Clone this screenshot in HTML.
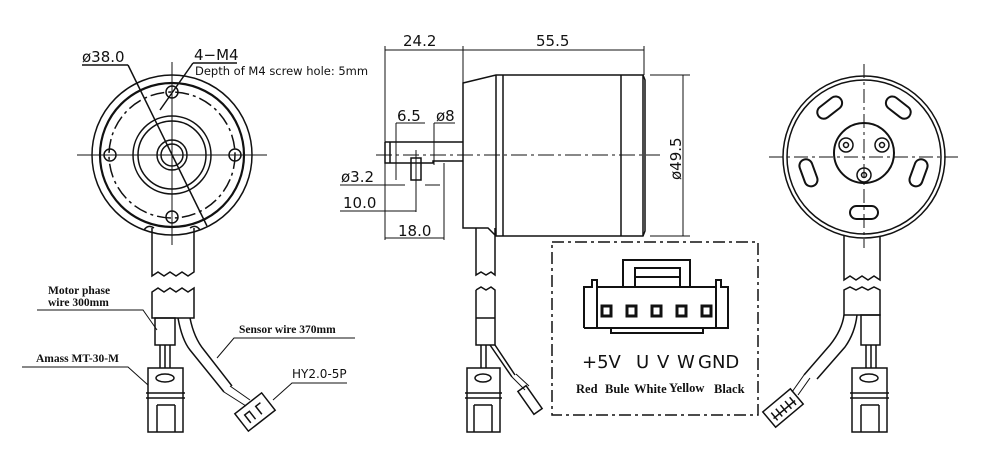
<!DOCTYPE html>
<html><head><meta charset="utf-8"><style>
html,body{margin:0;padding:0;background:#fff;}
svg{display:block}
text{font-family:"DejaVu Sans","Liberation Sans",sans-serif;fill:#111}
.s{font-family:"Liberation Serif",serif;font-weight:bold}
.c{font-family:"Liberation Serif",serif;font-weight:bold}
</style></head><body>
<svg width="1000" height="466" viewBox="0 0 1000 466" xmlns="http://www.w3.org/2000/svg" fill="none" stroke="#111" stroke-width="1.5">
<!-- LEFT VIEW -->
<g>
<circle cx="172" cy="155" r="80"/>
<circle cx="172" cy="155" r="72" stroke-width="2.2"/>
<circle cx="172" cy="155" r="63" stroke-dasharray="14 4 3 4"/>
<circle cx="172" cy="155" r="39"/>
<circle cx="172" cy="155" r="34"/>
<circle cx="172" cy="155" r="15"/>
<circle cx="172" cy="155" r="11"/>
<circle cx="172" cy="92" r="6"/><circle cx="110" cy="155" r="6"/><circle cx="235" cy="155" r="6"/><circle cx="172" cy="217" r="6"/>
<line x1="77" y1="155" x2="267" y2="155" stroke-width="1"/>
<line x1="172" y1="62" x2="172" y2="245" stroke-width="1"/>
<line x1="128" y1="65" x2="207" y2="226"/>
<line x1="82" y1="65" x2="128" y2="65"/>
<line x1="193" y1="63" x2="237" y2="63"/>
<line x1="193" y1="63" x2="160" y2="110"/>
<path d="M152 228 V276 l6 -4 6 4 6 -4 6 4 6 -4 6 4 6 -4 V228"/>
<path d="M152 318 V292 l6 -4 6 4 6 -4 6 4 6 -4 6 4 6 -4 V318 Z"/>
<path d="M144 230 q4 -6 10 -2 M200 230 q-4 -6 -10 -2"/>
<rect x="155" y="318" width="20" height="27"/>
<line x1="160" y1="345" x2="160" y2="368"/><line x1="165" y1="345" x2="165" y2="368"/><line x1="170" y1="345" x2="170" y2="368"/>
<path d="M178 318 q4 22 12 32 l34 42 M190 318 q4 20 14 32 l28 36"/>
<rect x="148" y="368" width="35" height="64"/>
<line x1="146" y1="393" x2="185" y2="393"/><line x1="146" y1="398" x2="185" y2="398"/>
<ellipse cx="165" cy="378" rx="9" ry="4"/>
<line x1="157" y1="405" x2="175" y2="405"/><line x1="157" y1="405" x2="157" y2="432"/><line x1="175" y1="405" x2="175" y2="432"/>
<g transform="translate(255 412) rotate(-38)"><rect x="-17" y="-11" width="34" height="22"/><path d="M-10 6 V-4 H-4 V6 M4 6 V-4 H10"/></g>
<path d="M224 392 l22 14 M230 386 l20 14" stroke-width="1"/>
<path d="M37 310 H143 L157 330 M22 367 H128 L148 385 M355 338 H234 L217 358 M347 383 H292 L273 400" stroke-width="1"/>
</g>
<g stroke="none">
<text x="82" y="62" font-size="15">ø38.0</text>
<text x="194" y="60" font-size="15">4−M4</text>
<text x="195" y="75" font-size="11.5">Depth of M4 screw hole: 5mm</text>
<text class="s" x="48" y="294" font-size="11.5">Motor phase</text>
<text class="s" x="48" y="306" font-size="11.5">wire 300mm</text>
<text class="s" x="36" y="362" font-size="11.5">Amass MT-30-M</text>
<text class="s" x="239" y="333" font-size="11.5">Sensor wire 370mm</text>
<text x="292" y="378" font-size="12" font-family="Liberation Serif,serif">HY2.0-5P</text>
</g>
<!-- MIDDLE VIEW -->
<g>
<line x1="385" y1="46" x2="385" y2="240" stroke-width="1"/>
<line x1="463" y1="46" x2="463" y2="228" stroke-width="1"/>
<line x1="644" y1="46" x2="644" y2="75" stroke-width="1"/>
<line x1="385" y1="50" x2="644" y2="50" stroke-width="1"/>
<path d="M463 83 L496 75 H643 L645 80 V231 L643 236 H496 L488 228 H463 Z"/>
<line x1="503" y1="75" x2="503" y2="236"/><line x1="621" y1="75" x2="621" y2="236"/><line x1="643" y1="75" x2="643" y2="236"/>
<line x1="496" y1="75" x2="496" y2="236"/>
<path d="M385 142 H463 M385 142 V163 H433 V161 H463 M433 163"/>
<line x1="390" y1="142" x2="390" y2="163"/>
<rect x="411" y="158" width="10" height="22"/>
<line x1="376" y1="155" x2="660" y2="155" stroke-dasharray="16 4 3 4" stroke-width="1"/>
<line x1="416" y1="150" x2="416" y2="212" stroke-width="1"/>
<line x1="683" y1="75" x2="683" y2="236" stroke-width="1"/>
<line x1="650" y1="75" x2="690" y2="75" stroke-width="1"/><line x1="650" y1="236" x2="690" y2="236" stroke-width="1"/>
<path d="M396 123 H425 M396 123 V180 M434 123 H455 M434 123 V165 M340 185 H405 M425 185 H440 M340 211 H416 M385 238 H444 M444 163 V240" stroke-width="1"/>
<path d="M476 228 V275 l5 -3 5 3 5 -3 4 3 V228 M476 290 V345 H495 V290 l-4 -3 -5 3 -5 -3 -5 3"/>
<line x1="476" y1="318" x2="495" y2="318"/>
<path d="M481 345 V368 M486 345 V368 M490 345 l22 32 M495 345 l20 30"/>
<g transform="translate(530 400) rotate(-35)"><rect x="-5" y="-14" width="10" height="28"/></g>
<path d="M512 377 L525 390 M516 374 L529 386" stroke-width="1"/>
<rect x="467" y="368" width="33" height="64"/>
<line x1="465" y1="393" x2="502" y2="393"/><line x1="465" y1="398" x2="502" y2="398"/>
<ellipse cx="483" cy="378" rx="8" ry="4"/>
<line x1="474" y1="405" x2="492" y2="405"/><line x1="474" y1="405" x2="474" y2="432"/><line x1="492" y1="405" x2="492" y2="432"/>
<rect x="552" y="242" width="206" height="173" stroke-dasharray="12 4 3 4"/>
<path d="M623 287 V260 H690 V287 M635 287 V268 H680 V287 M635 277 H680" stroke-width="2"/>
<path d="M584 328 V287 H592 V280 H597 V287 H716 V280 H721 V287 H728 V328 H611 M597 287 V328 M716 287 V328 M584 328 H728" stroke-width="2"/>
<path d="M611 328 V333 H703 V328" stroke-width="2"/>
<g stroke-width="3"><rect x="602" y="306" width="9" height="10"/><rect x="627" y="306" width="9" height="10"/><rect x="652" y="306" width="9" height="10"/><rect x="677" y="306" width="9" height="10"/><rect x="702" y="306" width="9" height="10"/></g>
</g>
<g stroke="none">
<text x="403" y="46" font-size="15">24.2</text>
<text x="536" y="46" font-size="15">55.5</text>
<text x="397" y="121" font-size="15">6.5</text>
<text x="436" y="121" font-size="15">ø8</text>
<text x="341" y="182" font-size="15">ø3.2</text>
<text x="343" y="208" font-size="15">10.0</text>
<text x="398" y="236" font-size="15">18.0</text>
<text transform="translate(681 180) rotate(-90)" font-size="15">ø49.5</text>
<text x="582" y="368" font-size="18">+5V</text>
<text x="636" y="368" font-size="18">U</text>
<text x="657" y="368" font-size="18">V</text>
<text x="677" y="368" font-size="18">W</text>
<text x="698" y="368" font-size="18">GND</text>
<text class="c" x="576" y="393" font-size="12.5">Red</text>
<text class="c" x="605" y="393" font-size="12.5">Bule</text>
<text class="c" x="634" y="393" font-size="12.5">White</text>
<text class="c" x="669" y="392" font-size="12.5">Yellow</text>
<text class="c" x="714" y="393" font-size="12.5">Black</text>
</g>
<!-- RIGHT VIEW -->
<g>
<circle cx="864" cy="157" r="81"/>
<circle cx="864" cy="157" r="77"/>
<circle cx="864" cy="153" r="30" stroke-width="2"/>
<circle cx="846" cy="145" r="7"/><circle cx="846" cy="145" r="2.5"/>
<circle cx="882" cy="145" r="7"/><circle cx="882" cy="145" r="2.5"/>
<circle cx="864" cy="175" r="7"/><circle cx="864" cy="175" r="2.5"/>
<rect x="816" y="101" width="28" height="13" rx="6.5" transform="rotate(-38 830 108)" stroke-width="2"/>
<rect x="884" y="101" width="28" height="13" rx="6.5" transform="rotate(38 898 108)" stroke-width="2"/>
<rect x="794" y="166" width="28" height="13" rx="6.5" transform="rotate(70 808 173)" stroke-width="2"/>
<rect x="905" y="166" width="28" height="13" rx="6.5" transform="rotate(-70 919 173)" stroke-width="2"/>
<rect x="850" y="206" width="28" height="13" rx="6.5" stroke-width="2"/>
<line x1="769" y1="157" x2="960" y2="157" stroke-dasharray="14 4 3 4" stroke-width="1"/>
<line x1="864" y1="64" x2="864" y2="248" stroke-dasharray="14 4 3 4" stroke-width="1"/>
<path d="M844 236 V280 l6 -4 6 4 6 -4 6 4 6 -4 6 4 V236"/>
<path d="M844 315 V290 l6 -3 6 3 6 -3 6 3 6 -3 6 3 V315 Z"/>
<rect x="861" y="315" width="19" height="30"/>
<path d="M866 345 V368 M871 345 V368 M876 345 V368"/>
<path d="M844 315 q-2 15 -14 30 l-26 30 M857 315 q-2 18 -12 32 l-28 32"/>
<rect x="852" y="368" width="35" height="64"/>
<line x1="850" y1="393" x2="889" y2="393"/><line x1="850" y1="398" x2="889" y2="398"/>
<ellipse cx="869" cy="378" rx="9" ry="4"/>
<line x1="861" y1="405" x2="879" y2="405"/><line x1="861" y1="405" x2="861" y2="432"/><line x1="879" y1="405" x2="879" y2="432"/>
<g transform="translate(783 408) rotate(-40)"><rect x="-18" y="-10" width="36" height="20"/><path d="M-12 6 V-4 M-6 6 V-4 M0 6 V-4 M6 6 V-4 M12 6 V-4 M-14 2 H14"/></g>
<path d="M804 375 L792 392 M810 378 L798 395" stroke-width="1"/>
</g>
</svg>
</body></html>
